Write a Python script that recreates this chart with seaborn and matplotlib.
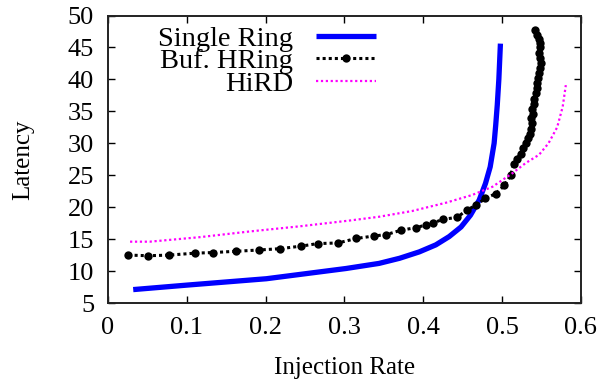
import matplotlib
matplotlib.use("Agg")
import matplotlib.pyplot as plt
import seaborn as sns
import pandas as pd

# Latency vs. injection rate for three ring designs
single_x = [0.032, 0.100, 0.201, 0.302, 0.344, 0.370, 0.395, 0.416, 0.433, 0.448,
            0.460, 0.471, 0.479, 0.485, 0.490, 0.492, 0.494, 0.496, 0.498]
single_y = [7.1, 7.8, 8.8, 10.4, 11.2, 12.0, 13.0, 14.1, 15.4, 16.9,
            18.75, 21.1, 23.7, 26.3, 30.0, 32.8, 36.0, 40.0, 45.6]

hring_x = [0.026, 0.051, 0.078, 0.110, 0.133, 0.163, 0.192, 0.218, 0.245, 0.266,
           0.292, 0.315, 0.338, 0.353, 0.372, 0.391, 0.403, 0.412, 0.425, 0.443,
           0.456, 0.467, 0.479, 0.492, 0.503, 0.511, 0.515, 0.519, 0.524, 0.527,
           0.530, 0.533, 0.536, 0.537, 0.538, 0.537, 0.539, 0.538, 0.540, 0.541,
           0.543, 0.544, 0.545, 0.546, 0.547, 0.548, 0.549, 0.548, 0.547, 0.548,
           0.548, 0.547, 0.545, 0.542]
hring_y = [12.5, 12.4, 12.5, 12.8, 12.9, 13.1, 13.3, 13.5, 13.9, 14.3,
           14.4, 15.1, 15.5, 15.7, 16.4, 16.8, 17.2, 17.5, 18.1, 18.4,
           19.6, 20.3, 21.4, 22.1, 23.4, 25.0, 26.8, 27.6, 28.4, 29.2,
           30.0, 30.8, 31.5, 32.3, 33.1, 33.9, 34.6, 35.4, 36.2, 37.0,
           37.8, 38.6, 39.4, 40.2, 41.0, 41.8, 42.6, 43.4, 44.2, 45.0,
           45.7, 46.3, 46.9, 47.7]

hird_x = [0.028, 0.053, 0.116, 0.180, 0.243, 0.306, 0.344, 0.386, 0.429, 0.462,
          0.488, 0.513, 0.530, 0.547, 0.559, 0.570, 0.577, 0.581]
hird_y = [14.6, 14.6, 15.3, 16.2, 17.0, 17.9, 18.5, 19.4, 20.7, 21.9,
          23.2, 25.3, 26.9, 28.2, 30.0, 32.5, 35.7, 39.1]

x_ticks = [0, 0.1, 0.2, 0.3, 0.4, 0.5, 0.6]
x_tick_labels = ["0", "0.1", "0.2", "0.3", "0.4", "0.5", "0.6"]
y_ticks = [5, 10, 15, 20, 25, 30, 35, 40, 45, 50]

sns.set_style("ticks")
plt.rcParams["font.family"] = ["Liberation Serif", "DejaVu Serif"]
plt.rcParams["text.color"] = "black"
plt.rcParams["axes.labelcolor"] = "black"

fig = plt.figure(figsize=(6.05, 3.81), dpi=100)
ax = fig.add_axes([0.1785, 0.2047, 0.7815, 0.7546])

single = pd.DataFrame({"x": single_x, "y": single_y})
hring = pd.DataFrame({"x": hring_x, "y": hring_y})
hird = pd.DataFrame({"x": hird_x, "y": hird_y})

sns.lineplot(data=single, x="x", y="y", ax=ax, sort=False, estimator=None,
             color="#0000ff", linewidth=3.8, label="Single Ring",
             solid_joinstyle="round", solid_capstyle="butt")
sns.lineplot(data=hring, x="x", y="y", ax=ax, sort=False, estimator=None,
             color="black", linewidth=2.2, linestyle=(0, (1, 1)),
             marker="o", markersize=6, markeredgewidth=0, label="Buf. HRing")
sns.lineplot(data=hird, x="x", y="y", ax=ax, sort=False, estimator=None,
             color="#ff00ff", linewidth=1.6, linestyle=(0, (1, 1.2)),
             label="HiRD")

ax.set_xlim(0, 0.6)
ax.set_ylim(5, 50)
ax.set_xticks(x_ticks)
ax.set_xticklabels(x_tick_labels)
ax.set_yticks(y_ticks)
ax.tick_params(direction="in", top=True, right=True, length=5, width=1,
               labelsize=19, colors="black", labelcolor="black", pad=10)
ax.set_xlabel("Injection Rate", fontsize=18, labelpad=13)
ax.set_ylabel("Latency", fontsize=18, labelpad=24)
for s in ax.spines.values():
    s.set_linewidth(1.4)
    s.set_color("#222222")

leg = ax.legend(loc="upper left", bbox_to_anchor=(0.07, 1.024), frameon=False,
                markerfirst=False, fontsize=20.5, handlelength=2.1,
                labelspacing=-0.12, handletextpad=0.8, borderaxespad=0.2)
for t in leg.get_texts():
    t.set_ha("right")

fig.savefig("out.png", dpi=100)
